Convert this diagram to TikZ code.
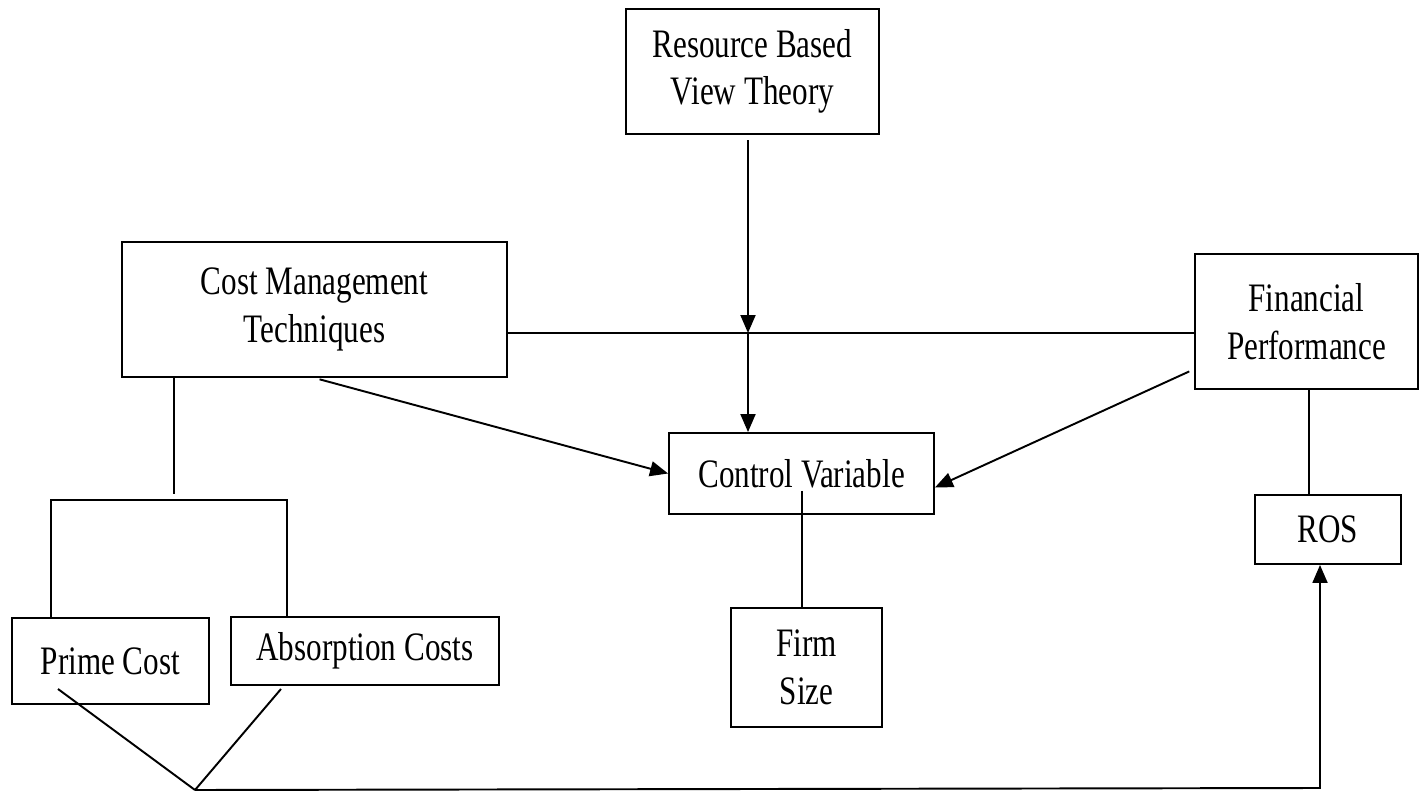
\documentclass[tikz,border=0pt]{standalone}
\usepackage{fontspec}
\setmainfont{Liberation Serif}[FakeStretch=0.77]
\usetikzlibrary{arrows.meta,calc}

\begin{document}
\begin{tikzpicture}[x=0.02cm, y=-0.02cm,
    box/.style={draw, line width=1.1pt, inner sep=0pt, align=center,
      font=\fontsize{23}{27}\selectfont},
    link/.style={line width=1.1pt},
    arr/.style={line width=1.1pt, -{Triangle[length=0.36cm,width=0.3cm]}}]
  \useasboundingbox (0,0) rectangle (1423,793); % page size

  % Boxes
  \node[box, minimum width=5.06cm, minimum height=2.5cm] (rbv) at (752.5,71.5) {Resource Based\\View Theory};
  \node[box, minimum width=7.7cm, minimum height=2.7cm] (cmt) at (314.5,309.5) {Cost Management\\Techniques};
  \node[box, minimum width=4.46cm, minimum height=2.7cm] (fin) at (1306.5,321.5) {Financial\\Performance};
  \node[box, minimum width=5.3cm, minimum height=1.62cm] (ctrl) at (801.5,473.5) {Control Variable};
  \node[box, minimum width=3.02cm, minimum height=2.38cm] (firm) at (806.5,667.5) {Firm\\Size};
  \node[box, minimum width=2.92cm, minimum height=1.38cm] (ros) at (1328,529.5) {ROS};
  \node[box, minimum width=3.94cm, minimum height=1.72cm] (prime) at (110.5,661) {Prime Cost};
  \node[box, minimum width=5.36cm, minimum height=1.36cm] (absorb) at (365,651) {Absorption Costs};

  % Helper points
  \coordinate (mid) at (748,333);
  \coordinate (split) at (174,494);
  \coordinate (brl) at (51,500);
  \coordinate (brr) at (287,500);
  \coordinate (cvfoot) at (802,491);
  \coordinate (rosline) at (1309,400);
  \coordinate (pfoot) at (58,689);
  \coordinate (afoot) at (281,689);
  \coordinate (meet) at (195,790);
  \coordinate (corner) at (1320,788);

  % Main horizontal link
  \draw[link] (cmt.east |- mid) -- (fin.west |- mid);
  \draw[arr, shorten <=3pt] (rbv.south -| mid) -- (mid); % theory arrow
  \draw[arr] (mid) -- (ctrl.north -| mid);
  \draw[arr, shorten <=3pt] (cmt.south) -- (ctrl.west);
  \draw[arr, shorten <=3pt] (fin.203) -- (ctrl.354);

  % Sub-items
  \draw[link] (cvfoot) -- (cvfoot |- firm.north);
  \draw[link] (fin.south -| rosline) -- (ros.north -| rosline);
  \draw[link] (cmt.south -| split) -- (split);
  \draw[link] (prime.north -| brl) -- (brl) -- (brr) -- (absorb.north -| brr); % bracket

  % Bottom path to ROS
  \draw[link] (pfoot) -- (meet);
  \draw[link] (afoot) -- (meet);
  \draw[arr] (meet) -- (corner) -- (corner |- ros.south);
\end{tikzpicture}
\end{document}
